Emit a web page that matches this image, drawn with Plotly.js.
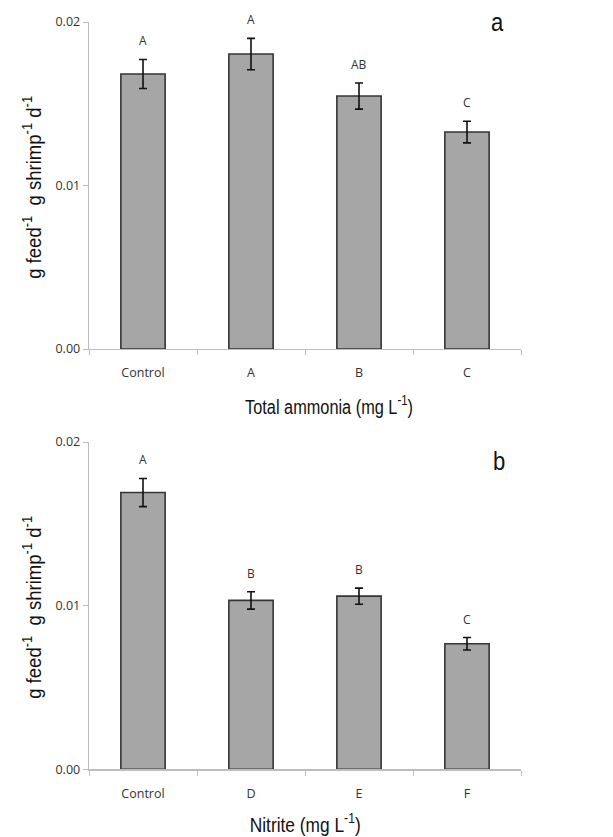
<!DOCTYPE html>
<html><head><meta charset="utf-8">
<script src="https://cdn.plot.ly/plotly-3.0.1.min.js"></script>
<style>body{margin:0;background:#fff}#c{width:613px;height:837px}</style>
</head><body><div id="c"></div>
<script>
const catsA = ["Control","A","B","C"];
const valsA = [0.01682, 0.01804, 0.01547, 0.01327];
const errA  = [0.00089, 0.00096, 0.00080, 0.00066];
const sigA  = ["A","A","AB","C"];

const catsB = ["Control","D","E","F"];
const valsB = [0.01691, 0.01032, 0.01058, 0.00767];
const errB  = [0.00086, 0.00053, 0.00049, 0.00038];
const sigB  = ["A","B","B","C"];

const yTicks = [0, 0.01, 0.02];
const yTickText = ["0.00","0.01","0.02"];

const H = 837;
const dom = (top, bot) => [(H - bot) / H, (H - top) / H];

function barTrace(cats, vals, errs, xa, ya) {
  return {
    type: "bar", x: cats, y: vals, xaxis: xa, yaxis: ya, width: 0.41,
    marker: {color: "#a6a6a6", line: {color: "#353535", width: 1.6}},
    error_y: {type: "data", array: errs, visible: true, color: "#111", thickness: 1.6, width: 4},
    hoverinfo: "none", showlegend: false
  };
}

const tickFont = {family: "Open Sans, Liberation Sans, sans-serif", size: 12.5, color: "#333"};
const sigFont = {family: "Open Sans, Liberation Sans, sans-serif", size: 12, color: "#333"};
const titleFont = {family: "Liberation Sans, Arial, sans-serif", size: 21, color: "#111"};

function xaxis(anchor) {
  return {anchor: anchor, domain: [89/613, 521/613], range: [-0.5, 3.5], type: "category",
    showline: true, linecolor: "#bdbdbd", linewidth: 1.3, ticks: "outside", tickson: "boundaries",
    ticklen: 5, tickcolor: "#bdbdbd", tickfont: tickFont, ticklabelstandoff: 12,
    showgrid: false, zeroline: false, fixedrange: true};
}
function yaxis(anchor, d) {
  return {anchor: anchor, domain: d, range: [0, 0.02], tickvals: yTicks, ticktext: yTickText,
    showline: true, linecolor: "#bdbdbd", linewidth: 1.3, ticks: "outside", ticklen: 5, tickcolor: "#bdbdbd",
    tickfont: tickFont, showgrid: false, zeroline: false, fixedrange: true};
}

const annotations = [];
function addSig(cats, vals, errs, sig, xr, yr) {
  cats.forEach((c, i) => annotations.push({xref: xr, yref: yr, x: c, y: vals[i] + errs[i], text: sig[i],
    showarrow: false, yanchor: "bottom", yshift: 8, font: sigFont}));
}
addSig(catsA, valsA, errA, sigA, "x", "y");
addSig(catsB, valsB, errB, sigB, "x2", "y2");

// titles; "name" used to fit their drawn length to the reference
const ytitle = "g feed<sup>-1</sup>&nbsp; g shrimp<sup>-1</sup> d<sup>-1</sup>";
const fits = [];
[188, 608].forEach(yc => { fits.push(183); annotations.push({xref: "paper", yref: "paper", x: 32/613, y: (H - yc)/H,
  text: ytitle, textangle: -90, showarrow: false, xanchor: "center", yanchor: "middle", font: titleFont, name: "fit"}); });

fits.push(168);
annotations.push({xref: "paper", yref: "paper", x: 329/613, y: (H - 405)/H, text: "Total ammonia (mg L<sup>-1</sup>)",
  showarrow: false, xanchor: "center", yanchor: "middle", font: titleFont, name: "fit"});
fits.push(111);
annotations.push({xref: "paper", yref: "paper", x: 305/613, y: (H - 823)/H, text: "Nitrite (mg L<sup>-1</sup>)",
  showarrow: false, xanchor: "center", yanchor: "middle", font: titleFont, name: "fit"});

const panelFont = {family: "Liberation Sans, Arial, sans-serif", size: 26, color: "#111"};
fits.push(null);
annotations.push({xref: "paper", yref: "paper", x: 497/613, y: (H - 22)/H, text: "a", showarrow: false,
  xanchor: "center", yanchor: "middle", font: panelFont, name: "fit"});
fits.push(null);
annotations.push({xref: "paper", yref: "paper", x: 499/613, y: (H - 461)/H, text: "b", showarrow: false,
  xanchor: "center", yanchor: "middle", font: panelFont, name: "fit"});

const layout = {
  width: 613, height: 837, margin: {l: 0, r: 0, t: 0, b: 0},
  paper_bgcolor: "#fff", plot_bgcolor: "#fff", showlegend: false,
  xaxis: xaxis("y"), yaxis: yaxis("x", dom(22, 349)),
  xaxis2: xaxis("y2"), yaxis2: yaxis("x2", dom(442, 769.3)),
  annotations: annotations
};

Plotly.newPlot("c", [barTrace(catsA, valsA, errA, "x", "y"), barTrace(catsB, valsB, errB, "x2", "y2")],
  layout, {displayModeBar: false, staticPlot: true}).then(gd => {
  // condense the title texts (reference uses a narrow face) to the reference's drawn length
  const groups = gd.querySelectorAll(".annotation");
  const nSig = catsA.length + catsB.length;
  fits.forEach((target, k) => {
    const g = groups[nSig + k];
    if (!g) return;
    const t = g.querySelector("text");
    if (!t) return;
    const bb = t.getBBox();
    const s = target ? target / bb.width : 0.85;
    const cx = bb.x + bb.width / 2;
    t.setAttribute("transform", `translate(${cx},0) scale(${s},1) translate(${-cx},0)`);
  });
});
</script></body></html>
